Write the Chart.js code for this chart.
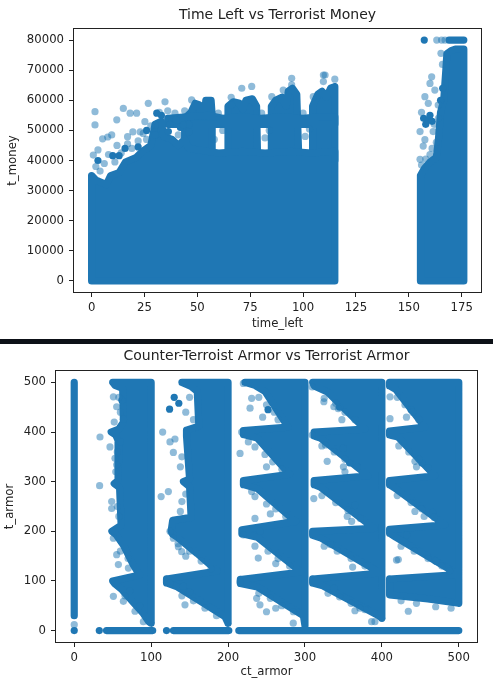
<!DOCTYPE html>
<html>
<head>
<meta charset="utf-8">
<script src="https://cdn.jsdelivr.net/npm/chart.js@4.4.1/dist/chart.umd.min.js"></script>
<style>
  html, body { margin: 0; padding: 0; background: #fff; }
  body { width: 493px; height: 683px; position: relative; overflow: hidden; }
  .box { position: absolute; left: 0; width: 493px; height: 339px; }
  #topBox { top: 0; }
  #bottomBox { top: 344px; }
  #bar { position: absolute; left: 0; top: 339px; width: 493px; height: 5px; background: #0d1117; }
</style>
</head>
<body>
<div class="box" id="topBox"><canvas id="moneyChart"></canvas></div>
<div id="bar"></div>
<div class="box" id="bottomBox"><canvas id="armorChart"></canvas></div>

<script>
// =============================
// DATA - Time Left vs Terrorist Money
// =============================
const moneyXTicks = [0, 25, 50, 75, 100, 125, 150, 175];
const moneyYTicks = [0, 10000, 20000, 30000, 40000, 50000, 60000, 70000, 80000];

// outlines of the solid (overplotted) areas, [time_left, t_money]
const moneyMain = [[0,0],[0,35000],[2,33500],[7,32000],[9,35000],[13,36000],[16,39500],[21,41000],[24,43000],[28,45000],[30,52000],[33,53000],[34,48000],[38,47000],[41,45000],[44,47000],[46,44000],[60,42500],[72,43000],[82,42500],[95,43000],[104,42500],[115,43000],[115,0]];
const moneyBand = [[36,52000],[36,54000],[45,54500],[55,55000],[62,54000],[70,54500],[80,54000],[90,54500],[100,54000],[108,54500],[115,54500],[115,52000]];
const moneyColA = [[44,40000],[44,54000],[47,56000],[49,59000],[51,58500],[52,54000],[53.5,55000],[54,60000],[56.5,60000],[57,55000],[57,40000]];
const moneyColB = [[64.5,40000],[64.5,58000],[67,59500],[70,59000],[71.5,57000],[73,60000],[76,60500],[78,58000],[78.5,40000]];
const moneyColC = [[85,40000],[85,58000],[87,60000],[90,61000],[92,58000],[93,63000],[95,64000],[97,62000],[98,40000]];
const moneyColD = [[104.5,40000],[104.5,58000],[107,62000],[109,63000],[111,61000],[113,64000],[115,64500],[115,40000]];
const moneyRight = [[155.5,0],[155.5,35000],[157.5,37500],[160,39500],[163,41000],[164,47000],[165,56000],[166.5,60000],[167.5,70000],[168,75500],[170,76500],[172,77000],[176,77000],[176,0]];
const moneyTopRow = [[169,80000],[176,80000]];

// single points
const moneyLight = [[1.6,56200],[1.6,51800],[0.8,41800],[3,43500],[5.2,47200],[7.6,47800],[9.5,48500],[11.9,53500],[15,57300],[17,47900],[18.2,55700],[19.5,49500],[21.3,55700],[24.4,49000],[25.2,52900],[26.8,59000],[30,51800],[34.7,59500],[39.4,55700],[43.4,51800],[47.3,60100],[59.9,55700],[66,61000],[71,64000],[75.7,64600],[80.4,55700],[85.2,61200],[90.6,63400],[94.6,67300],[94.6,65100],[100,55700],[104.8,61200],[109.6,68400],[109.6,66200],[115,67000],[110.4,68400],[163.2,80000],[165.5,80000],[167.1,80000],[165.2,75600],[165.9,71900],[160.8,67800],[160,65600],[162.3,63400],[157.6,61200],[159.2,59000],[163.9,58400],[155.3,49600],[157.6,46900],[161.5,49600],[155.3,40400],[156.8,44800],[160,42000],
  [2,38000],[4,36500],[6,39000],[8,42000],[11,39500],[12,45000],[14,42500],[17,45500],[19,44000],[22,46500],[23,49500],[26,47000],[28,51500],[32,56000],[36,56500],[41,48500],[44,56500],[46,49500],[58,47000],[62,50000],[82,47500],[84,50000],[101,48000],[103,50500],[156,38500],[158,40500],[161,44000],[163,46000],[162,52000],[164,54000],[156,56000]];
const moneyDark = [[30.8,55700],[36.3,49600],[30,48500],[15.8,44000],[10,41600],[13,41600],[3,40000],[37,52000],[40,53500],[42,51000],[66.2,58400],[157.3,80000],[157,54000],[159,53500],[161,53000],[158,52000],[160,55000],[22,44500],[26,50000],[33,55000],[46,52000],[166,64000],[165,60000]];

// =============================
// DATA - Counter-Terroist Armor vs Terrorist Armor
// =============================
const armorTicks = [0, 100, 200, 300, 400, 500];

// outlines of the solid areas, [ct_armor, t_armor]
const armorCol0 = [[0,30],[0,500]];
const armorZero1 = [[42,0],[102,0]];
const armorZero2 = [[129,0],[201,0]];
const armorZero3 = [[214,0],[500,0]];
const armorBlock1 = [[100,15],[100,500],[50,500],[53,494],[63,488],[64,420],[58,406],[48,400],[54,394],[58,380],[57,302],[52,296],[59,288],[61,212],[49,200],[54,194],[64,172],[77,132],[85,112],[50,100],[53,94],[61,84],[75,60],[89,36],[97,18]];
const armorBlock2 = [[200,15],[200,500],[140,500],[152,492],[160,482],[162,412],[146,404],[146,392],[150,305],[142,300],[150,290],[152,228],[128,222],[126,200],[128,194],[134,188],[160,155],[186,120],[120,104],[120,96],[134,88],[165,58],[196,28]];
const armorBlock3 = [[300,10],[300,500],[222,500],[235,494],[248,482],[278,410],[220,403],[220,395],[238,388],[280,315],[220,302],[220,294],[238,286],[288,220],[218,203],[218,195],[238,188],[295,118],[216,103],[216,95],[238,88],[298,30]];
const armorBlock4 = [[400,25],[400,500],[310,500],[312,493],[330,480],[378,406],[312,400],[312,392],[320,388],[382,312],[312,302],[312,294],[320,289],[390,206],[310,200],[310,192],[320,187],[398,116],[310,104],[310,96],[322,91],[396,30]];
const armorBlock5 = [[500,55],[500,500],[410,500],[410,493],[418,486],[456,410],[410,402],[410,394],[421,390],[469,312],[410,302],[410,294],[416,288],[482,213],[410,204],[410,196],[418,188],[499,113],[410,104],[410,96],[410,72],[460,64]];

// single points
const armorLight = [[0,12],[33.5,390],[33,292],[113,270],[115,400],[131,386],[50.9,471],[55.2,451],[46.5,370],[53,347],[55.2,334],[48.7,260],[48.7,246],[50.9,186],[55.2,153],[57.4,133],[70.4,126],[50.9,69],[63.9,59],[79,39],[89.9,18],[124.5,380],[128.9,359],[122.4,280],[124.5,200],[128.9,186],[135.4,169],[139.7,159],[124.5,95],[141.9,89],[144,52],[219.9,498],[230.7,468],[228.6,448],[217.7,400],[226.4,380],[215.6,357],[230.7,280],[235,226],[241.5,200],[219.9,193],[239.3,146],[215.6,98],[237.2,65],[241.5,52],[250,38],[284.8,15],[309.4,491],[324.6,461],[337.6,451],[309.4,394],[326.7,374],[328.9,341],[311.5,266],[333.3,173],[337.6,85],[343.4,447],[349.9,367],[352,320],[365,253],[360.7,220],[371.5,45],[386.7,18],[391,18],[410.6,471],[410.6,427],[443,341],[432.2,193],[443,240],[421.4,143],[434.4,39],[419,142]];
// ragged edge points along the diagonal borders of each block
const armorFringe = [[58,470],[60,440],[52,420],[56,360],[54,320],[56,250],[58,230],[60,160],[70,145],[66,70],[72,80],[85,50],
  [140,70],[155,60],[170,45],[185,30],[150,78],[135,175],[150,160],[165,140],[178,125],[145,150],[140,260],[138,240],[145,275],[140,350],[138,330],[150,470],[145,440],[155,425],
  [240,470],[250,455],[260,440],[265,425],[245,430],[235,370],[248,355],[258,340],[270,325],[250,330],[235,270],[250,255],[262,245],[275,230],[255,235],[235,170],[252,160],[265,145],[280,130],[262,135],[240,75],[255,65],[270,50],[285,38],[262,45],
  [325,468],[340,458],[352,440],[365,425],[348,425],[322,372],[338,360],[352,345],[368,330],[350,330],[322,272],[340,258],[356,242],[372,226],[355,230],[325,170],[342,160],[360,145],[378,130],[362,128],[330,75],[345,68],[360,55],[378,42],[365,40],
  [420,470],[430,455],[440,440],[448,425],[432,430],[422,372],[435,360],[448,345],[460,328],[445,330],[420,272],[438,258],[452,245],[468,228],[455,230],[425,170],[442,160],[460,145],[478,130],[488,120],[425,60],[445,55],[470,48],[490,45]];
const armorDark = [[0,0],[32.6,0],[120,0],[130,470],[136,458],[124,446],[62,464],[64,426],[60,380],[252,445],[345,450],[358,338],[438,445],[452,338],[466,238],[470,140]];

// =============================
// HELPERS
// =============================
const BLUE = '#1f77b4';
const BLUE_HALF = 'rgba(31,119,180,0.5)';
const INK = '#222';
const tickFont = { family: '"DejaVu Sans"', size: 11.7 };

function areaSet(outline) {
  const closed = outline.concat([outline[0]]);
  return {
    data: closed.map(([x, y]) => ({ x, y })),
    showLine: true,
    fill: 'shape',
    backgroundColor: BLUE,
    borderColor: BLUE,
    borderWidth: 7.2,
    borderJoinStyle: 'round',
    borderCapStyle: 'round',
    pointRadius: 0
  };
}

function dotSet(list, color) {
  return {
    data: list.map(([x, y]) => ({ x, y })),
    backgroundColor: color,
    pointRadius: 3.6,
    pointBorderWidth: 0,
    showLine: false
  };
}

// frame on all four sides + title centred over the axes
const frameAndTitle = {
  id: 'frameAndTitle',
  afterDraw(chart, args, opts) {
    const { ctx, chartArea: a } = chart;
    ctx.save();
    ctx.strokeStyle = INK;
    ctx.lineWidth = 1;
    ctx.strokeRect(a.left + 0.5, a.top + 0.5, a.right - a.left - 1, a.bottom - a.top - 1);
    ctx.fillStyle = INK;
    ctx.font = '14px "DejaVu Sans"';
    ctx.textAlign = 'center';
    ctx.textBaseline = 'middle';
    ctx.fillText(opts.text, (a.left + a.right) / 2, opts.y);
    ctx.restore();
  }
};

function axis(cfg) {
  return {
    type: 'linear',
    min: cfg.min,
    max: cfg.max,
    afterBuildTicks: s => { s.ticks = cfg.ticks.map(v => ({ value: v })); },
    afterFit: s => { if (cfg.width) s.width = cfg.width; if (cfg.height) s.height = cfg.height; },
    border: { display: false },
    grid: { drawOnChartArea: false, drawTicks: true, tickLength: 4, color: INK, lineWidth: 1 },
    ticks: { color: INK, font: tickFont, padding: cfg.pad, maxRotation: 0, autoSkip: false, callback: v => String(v) },
    title: { display: true, text: cfg.label, color: INK, font: tickFont, padding: cfg.titlePad }
  };
}

function makeChart(id, datasets, scales, padding, title) {
  return new Chart(document.getElementById(id), {
    type: 'scatter',
    data: { datasets },
    options: {
      responsive: true,
      maintainAspectRatio: false,
      animation: false,
      events: [],
      layout: { padding },
      scales,
      plugins: {
        legend: { display: false },
        tooltip: { enabled: false },
        frameAndTitle: title
      }
    },
    plugins: [frameAndTitle]
  });
}

// =============================
// CHART 1
// =============================
makeChart('moneyChart',
  [
    dotSet(moneyLight, BLUE_HALF),
    dotSet(moneyDark, BLUE),
    areaSet(moneyMain),
    areaSet(moneyBand),
    areaSet(moneyColA),
    areaSet(moneyColB),
    areaSet(moneyColC),
    areaSet(moneyColD),
    areaSet(moneyRight),
    areaSet(moneyTopRow)
  ],
  {
    x: axis({ min: -8.8, max: 184.6, ticks: moneyXTicks, height: 46, pad: 4, label: 'time_left', titlePad: { top: 0, bottom: 8 } }),
    y: axis({ min: -4000, max: 84000, ticks: moneyYTicks, width: 73, pad: 5, label: 't_money', titlePad: { top: 5.7, bottom: 0 } })
  },
  { top: 28, right: 11, bottom: 0, left: 0 },
  { text: 'Time Left vs Terrorist Money', y: 15 }
);

// =============================
// CHART 2
// =============================
makeChart('armorChart',
  [
    dotSet(armorLight, BLUE_HALF),
    dotSet(armorFringe, BLUE_HALF),
    dotSet(armorDark, BLUE),
    areaSet(armorCol0),
    areaSet(armorZero1),
    areaSet(armorZero2),
    areaSet(armorZero3),
    areaSet(armorBlock1),
    areaSet(armorBlock2),
    areaSet(armorBlock3),
    areaSet(armorBlock4),
    areaSet(armorBlock5)
  ],
  {
    x: axis({ min: -25, max: 525, ticks: armorTicks, height: 40, pad: 4, label: 'ct_armor', titlePad: { top: 0, bottom: 4 } }),
    y: axis({ min: -25, max: 525, ticks: armorTicks, width: 55, pad: 5, label: 't_armor', titlePad: { top: 3, bottom: 0 } })
  },
  { top: 26, right: 15, bottom: 0, left: 0 },
  { text: 'Counter-Terroist Armor vs Terrorist Armor', y: 12 }
);
</script>
</body>
</html>
